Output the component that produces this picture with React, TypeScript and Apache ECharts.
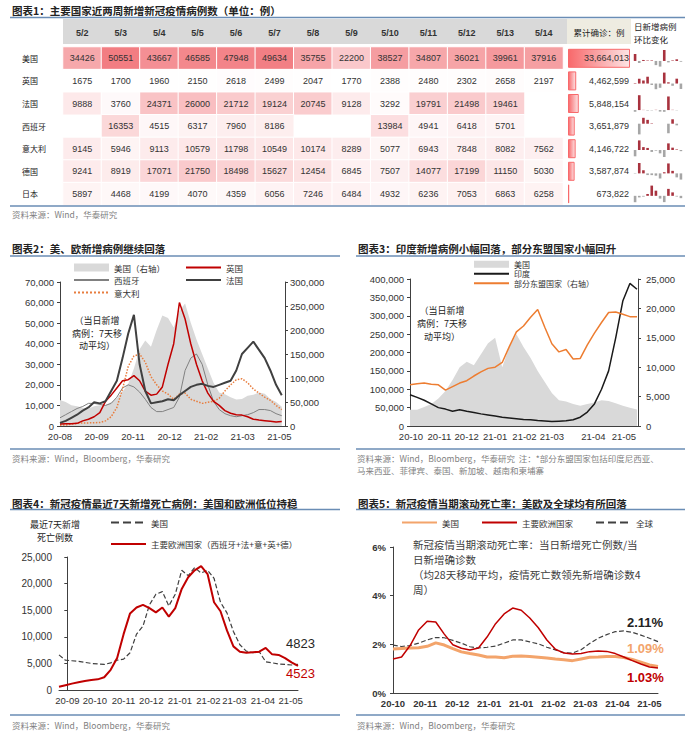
import React, { useEffect, useRef } from "react";
import * as echarts from "echarts";

const FONT = "'Liberation Sans', 'Noto Sans CJK SC', sans-serif";
const CJK = "'Noto Sans CJK SC', 'Liberation Sans', sans-serif";

// ---------- Table 1 ----------
const tableDates = ["5/2", "5/3", "5/4", "5/5", "5/6", "5/7", "5/8", "5/9", "5/10", "5/11", "5/12", "5/13", "5/14"];
const tableCountries = ["美国", "英国", "法国", "西班牙", "意大利", "德国", "日本"];
const casesUS = [34426, 50551, 43667, 46585, 47948, 49634, 35755, 22200, 38527, 34807, 36021, 39961, 37916];
const casesUK = [1675, 1700, 1960, 2150, 2618, 2499, 2047, 1770, 2388, 2480, 2302, 2658, 2197];
const casesFR = [9888, 3760, 24371, 26000, 21712, 19124, 20745, 9128, 3292, 19791, 21498, 19461, null];
const casesES = [null, 16353, 4515, 6317, 7960, 8186, null, null, 13984, 4941, 6418, 5701, null];
const casesIT = [9145, 5946, 9113, 10579, 11798, 10549, 10174, 8289, 5077, 6943, 7848, 8082, 7562];
const casesDE = [9241, 8919, 17071, 21750, 18498, 15627, 12454, 6845, 7507, 14077, 17199, 11150, 5030];
const casesJP = [5897, 4468, 4199, 4070, 4359, 6056, 7246, 6484, 4932, 6236, 7053, 6863, 6258];
const cumulative = [33664013, 4462599, 5848154, 3651879, 4146722, 3587874, 673822];

// ---------- Chart 2 (day index from 2020-08-10, step 7 days) ----------
const xLabels2 = ["20-08", "20-09", "20-11", "20-12", "21-02", "21-03", "21-05"];
const us2 = [54000, 50000, 43000, 41000, 38000, 36000, 41000, 43000, 44000, 50000, 58000, 72000, 88000, 120000, 160000, 178000, 165000, 200000, 230000, 225000, 205000, 240000, 255000, 215000, 180000, 150000, 120000, 90000, 70000, 66000, 60000, 55000, 56000, 63000, 65000, 70000, 67000, 56000, 50000, 40000];
const uk2 = [1000, 1050, 1100, 1300, 2500, 3300, 4500, 6500, 12000, 15000, 18500, 22000, 22500, 24500, 22000, 17000, 15000, 15500, 19000, 30000, 40000, 60000, 52000, 40000, 30000, 22000, 16000, 12000, 10000, 7500, 6200, 5500, 5300, 4500, 3300, 2900, 2600, 2300, 2000, 2200];
const es2 = [4000, 5500, 7000, 8500, 9500, 11000, 11000, 10500, 10000, 11000, 14000, 18500, 20000, 19000, 16500, 13000, 9000, 7000, 7000, 8000, 9000, 14000, 27000, 33000, 35000, 30000, 20000, 12000, 8000, 6000, 5000, 4500, 5000, 5500, 6500, 8000, 8000, 7500, 6000, 5000];
const fr2 = [1500, 2500, 4000, 5500, 7500, 9000, 11500, 11000, 12000, 17000, 22000, 33000, 45000, 54000, 30000, 17000, 11000, 11500, 12000, 13000, 12500, 15000, 17000, 19000, 20000, 20500, 19500, 19000, 20000, 21000, 22000, 27000, 35000, 38000, 41000, 37000, 33000, 27000, 20000, 15000];
const it2 = [400, 500, 900, 1300, 1500, 1500, 1600, 1700, 2500, 4500, 9000, 18000, 29000, 34000, 35000, 31000, 24000, 20000, 17000, 15500, 13000, 15500, 16000, 13000, 12000, 11000, 11500, 12000, 13500, 17000, 20000, 22500, 23000, 21000, 18000, 16000, 14000, 12500, 10000, 8000];

// ---------- Chart 3 (day index from 2020-10-01, step 7 days) ----------
const xTicks3 = [1, 29, 56, 84, 113, 140, 181, 211];
const xLabels3 = ["20-10", "20-11", "20-12", "21-01", "21-02", "21-03", "21-04", "21-05"];
const us3 = [44000, 44000, 52000, 60000, 75000, 95000, 125000, 160000, 175000, 165000, 195000, 225000, 240000, 160000, 215000, 250000, 215000, 185000, 150000, 120000, 90000, 70000, 67000, 60000, 55000, 60000, 64000, 70000, 68000, 62000, 55000, 50000, 45000];
const in3 = [85000, 78000, 70000, 60000, 50000, 46000, 40000, 44000, 40000, 37000, 33000, 30000, 27000, 24000, 22000, 20000, 18000, 17000, 15000, 13500, 12000, 13000, 14000, 17000, 24000, 38000, 60000, 100000, 150000, 240000, 340000, 388000, 372000];
const sea3 = [7000, 7200, 7300, 7100, 7000, 6100, 6700, 7300, 7700, 8500, 9200, 9800, 10000, 10800, 13500, 16000, 17000, 18500, 19800, 16800, 14000, 12600, 13000, 11400, 11500, 13800, 15800, 17600, 19300, 19400, 19000, 18600, 18600];

// ---------- Chart 4 (day index from 2020-09-01, start -9, step 7 days) ----------
const xTicks4 = [0, 30, 61, 91, 122, 153, 181, 212, 242];
const xLabels4 = ["20-09", "20-10", "20-11", "20-12", "21-01", "21-02", "21-03", "21-04", "21-05"];
const us4 = [6600, 5600, 5500, 5400, 5200, 5000, 4900, 4800, 5100, 5600, 5800, 7000, 10500, 12000, 16000, 18000, 18500, 15800, 18000, 22500, 21500, 23000, 22000, 22500, 21000, 16500, 14500, 11000, 8500, 7300, 7000, 7200, 5300, 5100, 4900, 4800, 4700, 4823];
const eu4 = [600, 900, 1200, 1450, 1700, 1900, 2000, 2400, 3800, 6000, 10500, 14400, 15500, 16000, 15400, 14600, 15500, 13800, 15400, 19000, 21200, 22500, 23300, 21800, 16500, 14800, 11200, 8200, 7200, 7000, 7100, 7200, 7900, 6700, 6600, 6000, 5200, 4523];

// ---------- Chart 5 (x units, step 8; %) ----------
const xLabels5 = ["20-10", "20-11", "20-12", "21-01", "21-01", "21-02", "21-03", "21-04", "21-05"];
const eu5 = [1.40, 1.48, 1.95, 2.59, 2.95, 2.92, 2.42, 1.98, 1.84, 1.77, 1.85, 2.30, 2.85, 3.25, 3.49, 3.40, 3.08, 2.68, 2.18, 1.80, 1.64, 1.60, 1.62, 1.70, 1.73, 1.71, 1.62, 1.48, 1.33, 1.19, 1.07, 1.03];
const us5 = [1.81, 1.83, 1.85, 1.86, 1.92, 2.06, 1.97, 1.82, 1.69, 1.62, 1.56, 1.48, 1.48, 1.45, 1.51, 1.52, 1.50, 1.47, 1.44, 1.40, 1.37, 1.33, 1.40, 1.47, 1.48, 1.50, 1.50, 1.46, 1.38, 1.27, 1.15, 1.09];
const gl5 = [1.97, 1.91, 1.95, 2.05, 2.18, 2.28, 2.27, 2.16, 2.05, 1.90, 1.85, 1.88, 1.93, 2.05, 2.18, 2.18, 2.10, 2.02, 1.88, 1.77, 1.66, 1.64, 1.78, 2.03, 2.25, 2.40, 2.52, 2.55, 2.49, 2.38, 2.25, 2.11];

const LABELS: Record<string, string> = {
  c2_us: "美国（右轴）", c2_uk: "英国", c2_es: "西班牙", c2_fr: "法国", c2_it: "意大利",
  c3_us: "美国", c3_in: "印度", c3_sea: "部分东盟国家（右轴）",
  c4_us: "美国", c4_eu: "主要欧洲国家（西班牙+法+意+英+德）",
  c5_us: "美国", c5_eu: "主要欧洲国家", c5_gl: "全球",
};

const toXY = (vals: number[], step: number, start = 0) => vals.map((v, i) => [start + i * step, v]);
const fmt = (v: number) => v.toLocaleString("en-US");
const pctChange = (row: (number | null)[]) =>
  row.slice(1).map((v, i) => (v == null || row[i] == null ? "-" : v / (row[i] as number) - 1));

const AX = "#404040";

function buildOption() {
  const rows = [casesUS, casesUK, casesFR, casesES, casesIT, casesDE, casesJP];
  const heat: any[] = [];
  rows.forEach((r, ri) => r.forEach((v, ci) => { if (v != null) heat.push([ci, ri, v]); }));

  const rowTop = 47, rowH = 22.6;
  const grids: any[] = [
    { left: 63, top: rowTop, width: 500, height: rowH * 7 },
    { left: 568, top: rowTop, width: 62, height: rowH * 7 },
  ];
  const xAxes: any[] = [
    { type: "category", gridIndex: 0, data: tableDates, position: "top", axisLine: { show: false }, axisTick: { show: false },
      axisLabel: { interval: 0, margin: 10, fontSize: 9, fontWeight: "bold", color: "#333", fontFamily: FONT } },
    { type: "value", gridIndex: 1, min: 0, max: cumulative[0], show: false },
  ];
  const yAxes: any[] = [
    { type: "category", gridIndex: 0, data: tableCountries, inverse: true, axisLine: { show: false }, axisTick: { show: false },
      axisLabel: { align: "left", margin: 41, fontSize: 8, color: "#222", fontFamily: CJK } },
    { type: "category", gridIndex: 1, data: tableCountries, inverse: true, show: false },
  ];
  const series: any[] = [
    { type: "heatmap", xAxisIndex: 0, yAxisIndex: 0, data: heat,
      itemStyle: { borderColor: "#fff", borderWidth: 1 },
      label: { show: true, fontSize: 9, color: "#333", fontFamily: FONT } },
    { type: "bar", xAxisIndex: 1, yAxisIndex: 1, data: cumulative, barWidth: 19,
      itemStyle: { color: new echarts.graphic.LinearGradient(0, 0, 1, 0, [{ offset: 0, color: "#f8696b" }, { offset: 1, color: "#fde4e5" }]),
        borderColor: "#f8696b", borderWidth: 1 },
      label: { show: true, position: [61, "50%"], align: "right", verticalAlign: "middle", fontSize: 9, color: "#333",
        fontFamily: FONT, formatter: (p: any) => fmt(p.value) } },
  ];

  rows.forEach((r, ri) => {
    const gi = 2 + ri;
    grids.push({ left: 633, top: rowTop + ri * rowH + 3, width: 50, height: rowH - 6 });
    xAxes.push({ type: "category", gridIndex: gi, data: tableDates.slice(1), show: false });
    yAxes.push({ type: "value", gridIndex: gi, show: false,
      min: (v: any) => Math.min(v.min, 0), max: (v: any) => Math.max(v.max, 0) });
    series.push({ type: "bar", xAxisIndex: gi, yAxisIndex: gi, data: pctChange(r), barWidth: 2.6,
      itemStyle: { color: (p: any) => (p.value >= 0 ? "#a8323e" : "#a6a6a6") } });
  });

  const axisCommon = (extra: any) => ({
    axisLine: { show: true, lineStyle: { color: AX, width: 1 } },
    axisTick: { show: true, length: 3, lineStyle: { color: AX } },
    splitLine: { show: false },
    ...extra,
  });
  const lbl = (extra: any) => ({ color: "#333", fontSize: 9.5, fontFamily: FONT, ...extra });

  // Chart 2: grid 9
  grids.push({ left: 60, top: 282, width: 225, height: 144 });
  xAxes.push(axisCommon({ type: "value", gridIndex: 9, min: 0, max: 277, interval: 45, axisTick: { show: false },
    axisLabel: lbl({ margin: 6, showMaxLabel: false, formatter: (v: number) => (v % 45 === 0 ? xLabels2[v / 45] || "" : "") }) }));
  yAxes.push(axisCommon({ type: "value", gridIndex: 9, min: 0, max: 70000, interval: 10000,
    axisLabel: lbl({ margin: 6, formatter: fmt }) }));
  yAxes.push(axisCommon({ type: "value", gridIndex: 9, position: "right", min: 0, max: 300000, interval: 50000,
    axisLabel: lbl({ margin: 5, formatter: fmt }) }));

  // Chart 3: grid 10
  grids.push({ left: 410, top: 279, width: 228, height: 147 });
  xAxes.push(axisCommon({ type: "value", gridIndex: 10, min: 0, max: 225, axisTick: { show: false },
    axisLabel: lbl({ margin: 6, customValues: xTicks3, formatter: (v: number) => xLabels3[xTicks3.indexOf(v)] || "" }) }));
  yAxes.push(axisCommon({ type: "value", gridIndex: 10, min: 0, max: 400000, interval: 50000,
    axisLabel: lbl({ margin: 6, formatter: fmt }) }));
  yAxes.push(axisCommon({ type: "value", gridIndex: 10, position: "right", min: 0, max: 25000, interval: 5000,
    axisLabel: lbl({ margin: 8, formatter: fmt }) }));

  // Chart 4: grid 11
  grids.push({ left: 59, top: 557, width: 239, height: 133 });
  xAxes.push(axisCommon({ type: "value", gridIndex: 11, min: -9, max: 250, axisTick: { show: false },
    axisLabel: lbl({ margin: 6, customValues: xTicks4, formatter: (v: number) => xLabels4[xTicks4.indexOf(v)] || "" }) }));
  yAxes.push(axisCommon({ type: "value", gridIndex: 11, min: 0, max: 25000, interval: 5000,
    axisLabel: lbl({ margin: 7, fontSize: 10, formatter: fmt }) }));

  // Chart 5: grid 12
  grids.push({ left: 393, top: 547, width: 265, height: 146 });
  xAxes.push(axisCommon({ type: "value", gridIndex: 12, min: 0, max: 248, interval: 30, axisTick: { show: false },
    axisLabel: lbl({ margin: 6, fontWeight: "bold", showMaxLabel: false,
      formatter: (v: number) => (v % 30 === 0 ? xLabels5[v / 30] || "" : "") }) }));
  yAxes.push(axisCommon({ type: "value", gridIndex: 12, min: 0, max: 6, interval: 2,
    axisLabel: lbl({ margin: 7, fontWeight: "bold", formatter: "{value}%" }) }));

  const line = (name: string, xi: number, yi: number, data: any[], color: string, width: number, type: any = "solid", extra: any = {}) => ({
    name, type: "line", xAxisIndex: xi, yAxisIndex: yi, data, symbol: "none", smooth: false,
    lineStyle: { color, width, type }, itemStyle: { color }, z: 3, ...extra,
  });

  series.push(
    { name: "c2_us", type: "line", xAxisIndex: 9, yAxisIndex: 10, data: toXY(us2, 7), symbol: "none",
      lineStyle: { width: 0, color: "#d9d9d9" }, itemStyle: { color: "#d9d9d9" }, areaStyle: { color: "#d9d9d9", opacity: 1 }, z: 1 },
    line("c2_es", 9, 9, toXY(es2, 7), "#808080", 1),
    line("c2_it", 9, 9, toXY(it2, 7), "#e87d3e", 1.5, "dotted"),
    line("c2_uk", 9, 9, toXY(uk2, 7), "#c00000", 1.5),
    line("c2_fr", 9, 9, toXY(fr2, 7), "#404040", 2),

    { name: "c3_us", type: "line", xAxisIndex: 10, yAxisIndex: 11, data: toXY(us3, 7), symbol: "none",
      lineStyle: { width: 0, color: "#d9d9d9" }, itemStyle: { color: "#d9d9d9" }, areaStyle: { color: "#d9d9d9", opacity: 1 }, z: 1 },
    line("c3_in", 10, 11, toXY(in3, 7), "#1a1a1a", 1.5),
    line("c3_sea", 10, 12, toXY(sea3, 7), "#ed7d31", 1.5),

    line("c4_us", 11, 13, toXY(us4, 7, -9), "#404040", 1.2, "dashed", {
      endLabel: { show: true, formatter: (p: any) => String(p.value[1]), offset: [-20, -21], color: "#262626", fontSize: 13, fontFamily: FONT } }),
    line("c4_eu", 11, 13, toXY(eu4, 7, -9), "#c00000", 2, "solid", {
      endLabel: { show: true, formatter: (p: any) => String(p.value[1]), offset: [-20, 8], color: "#c00000", fontSize: 13, fontFamily: FONT } }),

    line("c5_gl", 12, 14, toXY(gl5, 8), "#404040", 1.2, "dashed", {
      endLabel: { show: true, formatter: (p: any) => p.value[1].toFixed(2) + "%", offset: [-39, -19], color: "#222", fontSize: 13, fontWeight: "bold", fontFamily: FONT } }),
    line("c5_us", 12, 14, toXY(us5, 8), "#f3a46b", 3, "solid", {
      endLabel: { show: true, formatter: (p: any) => p.value[1].toFixed(2) + "%", offset: [-39, -18], color: "#f3a46b", fontSize: 13, fontWeight: "bold", fontFamily: FONT } }),
    line("c5_eu", 12, 14, toXY(eu5, 8), "#c00000", 1.5, "solid", {
      endLabel: { show: true, formatter: (p: any) => p.value[1].toFixed(2) + "%", offset: [-39, 10], color: "#c00000", fontSize: 13, fontWeight: "bold", fontFamily: FONT } }),
  );

  const legendBase = (extra: any) => ({
    padding: 0, itemWidth: 35, itemHeight: 8, selectedMode: false, formatter: (n: string) => LABELS[n] || n,
    itemStyle: { opacity: 0 },
    textStyle: { fontSize: 8.5, lineHeight: 9, color: "#333", fontFamily: CJK }, ...extra,
  });
  const rectItem = (name: string) => ({ name, icon: "rect", itemStyle: { color: "#d9d9d9", opacity: 1 } });
  const legends = [
    legendBase({ left: 73, top: 263, orient: "vertical", itemGap: 3.5, data: [rectItem("c2_us"), "c2_es", "c2_it"] }),
    legendBase({ left: 185, top: 263, orient: "vertical", itemGap: 3.5, data: ["c2_uk", "c2_fr"] }),
    legendBase({ left: 473, top: 260, orient: "vertical", itemGap: 1, itemHeight: 7,
      textStyle: { fontSize: 8, lineHeight: 8.5, color: "#333", fontFamily: CJK },
      data: [rectItem("c3_us"), "c3_in", "c3_sea"] }),
    legendBase({ left: 110, top: 518, orient: "vertical", itemGap: 12.5, data: ["c4_us", "c4_eu"] }),
    legendBase({ left: 401, top: 518, orient: "horizontal", itemGap: 22, data: ["c5_us", "c5_eu", "c5_gl"] }),
  ];

  const txt = (x: number, y: number, text: string, o: any = {}) => ({
    type: "text", x, y, z: 10,
    style: { text, fill: o.fill || "#222", fontSize: o.size || 9, fontWeight: o.weight || "normal", fontFamily: o.family || CJK,
      align: o.align || "left", verticalAlign: "middle", textAlign: o.align || "left", textVerticalAlign: "middle", lineHeight: o.lh },
  });
  const hline = (x1: number, x2: number, y: number) => ({
    type: "line", z: 10, shape: { x1, y1: y, x2, y2: y }, style: { stroke: "#6a8db5", lineWidth: 1.5 },
  });
  const src = "资料来源：Wind，Bloomberg，华泰研究";
  const graphic = [
    { type: "rect", z: -10, shape: { x: 63, y: 19, width: 504, height: 25 }, style: { fill: "#d9d9d9" } },
    { type: "rect", z: -10, shape: { x: 567, y: 19, width: 64, height: 25 }, style: { fill: "#eeece1" } },
    txt(599, 32, "累计确诊：例", { size: 8.5, align: "center" }),
    txt(634, 26, "日新增病例", { size: 8.5 }),
    txt(634, 39, "环比变化", { size: 8.5 }),
    txt(12, 10, "图表1：主要国家近两周新增新冠疫情病例数（单位：例）", { size: 10.5, weight: "bold" }),
    hline(10, 685, 17.5), hline(10, 685, 206),
    txt(12, 214, "资料来源：Wind，华泰研究", { size: 8.5, fill: "#7f7f7f" }),

    txt(12, 248, "图表2：美、欧新增病例继续回落", { size: 10.5, weight: "bold" }),
    hline(10, 340, 256), hline(10, 340, 449),
    txt(97, 333, "（当日新增\n病例：7天移\n动平均）", { size: 9, align: "center", lh: 12.5 }),
    txt(12, 458, src, { size: 8.5, fill: "#7f7f7f" }),

    txt(358, 248, "图表3：印度新增病例小幅回落，部分东盟国家小幅回升", { size: 10.5, weight: "bold" }),
    hline(356, 685, 256), hline(356, 685, 449),
    txt(442, 323, "（当日新增\n病例：7天移\n动平均）", { size: 9, align: "center", lh: 13 }),
    txt(357, 458, src + "  注：*部分东盟国家包括印度尼西亚、", { size: 8.5, fill: "#7f7f7f" }),
    txt(357, 470, "马来西亚、菲律宾、泰国、新加坡、越南和柬埔寨", { size: 8.5, fill: "#7f7f7f" }),

    txt(12, 503, "图表4：新冠疫情最近7天新增死亡病例：美国和欧洲低位持稳", { size: 10.5, weight: "bold" }),
    hline(10, 340, 509.5), hline(10, 340, 715),
    txt(55, 531, "最近7天新增\n死亡例数", { size: 9, align: "center", lh: 12.5 }),
    txt(12, 725, src, { size: 8.5, fill: "#7f7f7f" }),

    txt(358, 503, "图表5：新冠疫情当期滚动死亡率：美欧及全球均有所回落", { size: 10.5, weight: "bold" }),
    hline(356, 685, 509.5), hline(356, 685, 715),
    txt(413, 567, "新冠疫情当期滚动死亡率：当日新增死亡例数/当\n日新增确诊数\n（均28天移动平均，疫情死亡数领先新增确诊数4\n周）", { size: 10.5, fill: "#404040", lh: 14.7 }),
    txt(357, 725, src, { size: 8.5, fill: "#7f7f7f" }),
  ];

  return {
    animation: false,
    backgroundColor: "#fff",
    textStyle: { fontFamily: FONT },
    grid: grids,
    xAxis: xAxes,
    yAxis: yAxes,
    visualMap: { type: "continuous", show: false, seriesIndex: 0, min: 1675, max: 50551, inRange: { color: ["#ffffff", "#f27d82"] } },
    legend: legends,
    graphic,
    series,
  };
}

export default function App() {
  const ref = useRef<HTMLDivElement>(null);
  useEffect(() => {
    const chart = echarts.init(ref.current!, null, { renderer: "svg" });
    chart.setOption(buildOption() as any);
    return () => chart.dispose();
  }, []);
  return <div ref={ref} style={{ position: "absolute", left: 0, top: 0, width: 692, height: 738, background: "#fff" }} />;
}
